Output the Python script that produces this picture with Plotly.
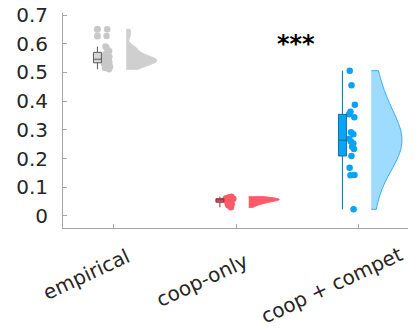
import plotly.graph_objects as go

categories = ["empirical", "coop-only", "coop + compet"]
cat_pos = [1, 2, 3]

empirical = [0.650, 0.627, 0.590, 0.585, 0.575, 0.565, 0.560, 0.555, 0.550,
             0.547, 0.545, 0.542, 0.540, 0.538, 0.535, 0.532, 0.530, 0.520,
             0.515, 0.511]
coop_only = [0.067, 0.065, 0.063, 0.062, 0.061, 0.060, 0.059, 0.058, 0.058,
             0.057, 0.056, 0.055, 0.053, 0.052, 0.050, 0.048, 0.046, 0.044,
             0.041, 0.037, 0.030]
coop_compet = [0.506, 0.455, 0.387, 0.363, 0.354, 0.344, 0.292, 0.285, 0.269,
               0.259, 0.252, 0.241, 0.233, 0.209, 0.168, 0.143, 0.142, 0.023]

series = [empirical, coop_only, coop_compet]
point_colors = ["#c8c8c8", "#ff5a6a", "#0aa2f5"]
violin_fill = ["#cfcfcf", "#ff5a6a", "#9edcff"]
violin_line = ["#cfcfcf", "#ff5a6a", "#3aaef5"]
box_fill = ["#d6d6d6", "#e85a66", "#05a5fb"]
box_line = ["#5a5a5a", "#8a3038", "#1b6a9c"]
bandwidths = [0.012, 0.006, 0.07]
# pixel offsets of rotated category-label centres from their tick
label_shift = [(-27, -46), (-34, -52), (-27, -57)]

fig = go.Figure()
for i, vals in enumerate(series):
    xc = cat_pos[i]
    fig.add_trace(go.Box(
        y=vals, x=[xc - 0.135] * len(vals), width=0.065,
        boxpoints="outliers", fillcolor=box_fill[i],
        line=dict(color=box_line[i], width=1),
        marker=dict(color=point_colors[i], size=7, line=dict(width=0)),
        showlegend=False, whiskerwidth=0, quartilemethod="inclusive",
    ))
    fig.add_trace(go.Violin(
        y=vals, x=[xc + 0.1] * len(vals), width=0.5, side="positive",
        spanmode="hard", bandwidth=bandwidths[i], scalemode="width",
        fillcolor=violin_fill[i], line=dict(color=violin_line[i], width=1),
        opacity=1, points="all", pointpos=-0.62, jitter=0.14,
        marker=dict(color=point_colors[i], size=6.5, line=dict(width=0)),
        box=dict(visible=False), meanline=dict(visible=False),
        showlegend=False, hoveron="violins+points",
    ))
    fig.add_annotation(x=xc, xref="x", y=0, yref="paper", text=categories[i],
                       textangle=-25, showarrow=False,
                       xanchor="center", yanchor="middle",
                       xshift=label_shift[i][0], yshift=label_shift[i][1],
                       font=dict(size=20, color="#262626", family="DejaVu Sans"))

fig.add_annotation(x=2.49, y=0.60, text="<b>***</b>", showarrow=False,
                   font=dict(size=24, color="black", family="DejaVu Sans"),
                   xanchor="center", yanchor="middle")

fig.update_layout(
    width=416, height=333,
    margin=dict(l=55, r=0, t=5, b=113),
    paper_bgcolor="white", plot_bgcolor="white",
    font=dict(family="DejaVu Sans", size=20, color="#262626"),
    boxmode="overlay", violinmode="overlay",
    xaxis=dict(range=[0.584, 3.531], tickvals=cat_pos, showticklabels=False,
               showgrid=False, zeroline=False, automargin=False,
               showline=True, linecolor="#a6a6a6", linewidth=1,
               ticks="inside", ticklen=4, tickcolor="#a6a6a6"),
    yaxis=dict(range=[-0.042, 0.707], tickvals=[0, 0.1, 0.2, 0.3, 0.4, 0.5, 0.6, 0.7],
               ticktext=["0", "0.1", "0.2", "0.3", "0.4", "0.5", "0.6", "0.7"],
               showgrid=False, zeroline=False, automargin=False,
               showline=True, linecolor="#a6a6a6", linewidth=1,
               ticks="inside", ticklen=4, tickcolor="#a6a6a6",
               tickfont=dict(size=20), ticklabelstandoff=10,
               ticklabeloverflow="allow"),
)

fig.write_html("out.html")
